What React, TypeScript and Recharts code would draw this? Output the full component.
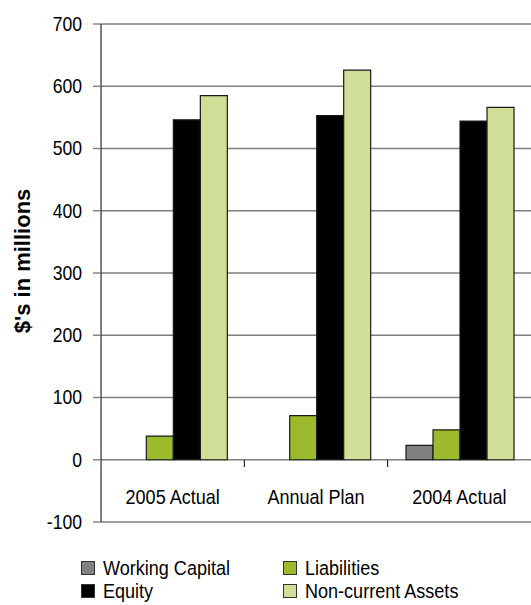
import { BarChart, Bar, XAxis, YAxis, CartesianGrid } from "recharts";

// Balance sheet summary, $ millions
const categories = ["2005 Actual", "Annual Plan", "2004 Actual"];
const workingCapital = [null, null, 23];
const liabilities = [38, 71, 48];
const equity = [546, 553, 544];
const nonCurrentAssets = [585, 626, 566];
const yTicks = [-100, 0, 100, 200, 300, 400, 500, 600, 700];

const seriesDefs = [
  { key: "wc", name: "Working Capital", values: workingCapital, fill: "#808080" },
  { key: "liab", name: "Liabilities", values: liabilities, fill: "#9bbb2c" },
  { key: "eq", name: "Equity", values: equity, fill: "#000000" },
  { key: "nca", name: "Non-current Assets", values: nonCurrentAssets, fill: "#cfdf97" },
];

const data = categories.map((c, i) => {
  const row: Record<string, string | number | null> = { name: c };
  seriesDefs.forEach((s) => { row[s.key] = s.values[i]; });
  return row;
});

const FONT = '"Liberation Sans", Arial, sans-serif';
const GRID = "#7f7f7f";
const SQUEEZE = 0.88; // narrow look for labels

// category label sits between the zero line and the -100 line;
// a short divider tick hangs off the zero line at each band edge
function CategoryTick(props: any) {
  const { x, y, payload, index } = props;
  const edge = payload.coordinate + (payload.offset || 0);
  return (
    <g>
      <text
        transform={`translate(${x},${y - 25}) scale(${SQUEEZE},1)`}
        textAnchor="middle"
        dominantBaseline="central"
        fontFamily={FONT}
        fontSize={20.5}
        fill="#000"
      >
        {payload.value}
      </text>
      {index < categories.length - 1 ? (
        <line x1={edge} x2={edge} y1={y - 62} y2={y - 55} stroke="#000" strokeWidth={1} />
      ) : null}
    </g>
  );
}

function ValueTick(props: any) {
  const { x, y, payload } = props;
  return (
    <text
      transform={`translate(${x},${y}) scale(${SQUEEZE},1)`}
      textAnchor="end"
      dominantBaseline="central"
      fontFamily={FONT}
      fontSize={20}
      fill="#000"
    >
      {payload.value}
    </text>
  );
}

function AxisTitle(props: any) {
  const { viewBox } = props;
  const cx = 22;
  const cy = viewBox.y + viewBox.height / 2 - 12;
  return (
    <text
      x={cx}
      y={cy}
      transform={`rotate(-90 ${cx} ${cy})`}
      textAnchor="middle"
      dominantBaseline="central"
      fontFamily={FONT}
      fontWeight={700}
      fontSize={22}
      fill="#000"
    >
      $'s in millions
    </text>
  );
}

export default function App() {
  return (
    <div style={{ position: "relative", width: 531, height: 605, background: "#fff" }}>
      <style>{`body{margin:0}`}</style>
      <BarChart
        width={531}
        height={605}
        data={data}
        margin={{ top: 24, right: 0, left: 41, bottom: 53 }}
        barCategoryGap="12.8%"
        barGap={0}
      >
        <CartesianGrid vertical={false} stroke={GRID} strokeWidth={1.4} />
        <XAxis
          dataKey="name"
          height={30}
          axisLine={false}
          tickLine={false}
          tickSize={0}
          tickMargin={0}
          interval={0}
          tick={<CategoryTick />}
        />
        <YAxis
          width={60}
          domain={[-100, 700]}
          ticks={yTicks}
          interval={0}
          axisLine={{ stroke: "#000", strokeWidth: 1 }}
          tickLine={{ stroke: GRID, strokeWidth: 1.4 }}
          tickSize={8}
          tickMargin={11}
          tick={<ValueTick />}
          label={<AxisTitle />}
        />
        {seriesDefs.map((s) => (
          <Bar
            key={s.key}
            dataKey={s.key}
            name={s.name}
            fill={s.fill}
            stroke="#1a1a1a"
            strokeWidth={1.2}
            isAnimationActive={false}
          />
        ))}
      </BarChart>

      {/* two-column legend under the plot */}
      <div
        style={{
          position: "absolute",
          left: 81,
          top: 557,
          display: "grid",
          gridTemplateColumns: "202px auto",
          rowGap: 1,
          fontFamily: FONT,
          fontSize: 20.5,
          lineHeight: "22px",
          color: "#000",
        }}
      >
        {seriesDefs.map((s) => (
          <div key={s.key} style={{ display: "flex", alignItems: "center", gap: 8 }}>
            <span
              style={{
                display: "inline-block",
                flex: "none",
                width: 12,
                height: 12,
                background: s.fill,
                border: "1px solid #333",
              }}
            />
            <span
              style={{
                display: "inline-block",
                whiteSpace: "nowrap",
                transform: `scaleX(${SQUEEZE})`,
                transformOrigin: "left center",
              }}
            >
              {s.name}
            </span>
          </div>
        ))}
      </div>
    </div>
  );
}
